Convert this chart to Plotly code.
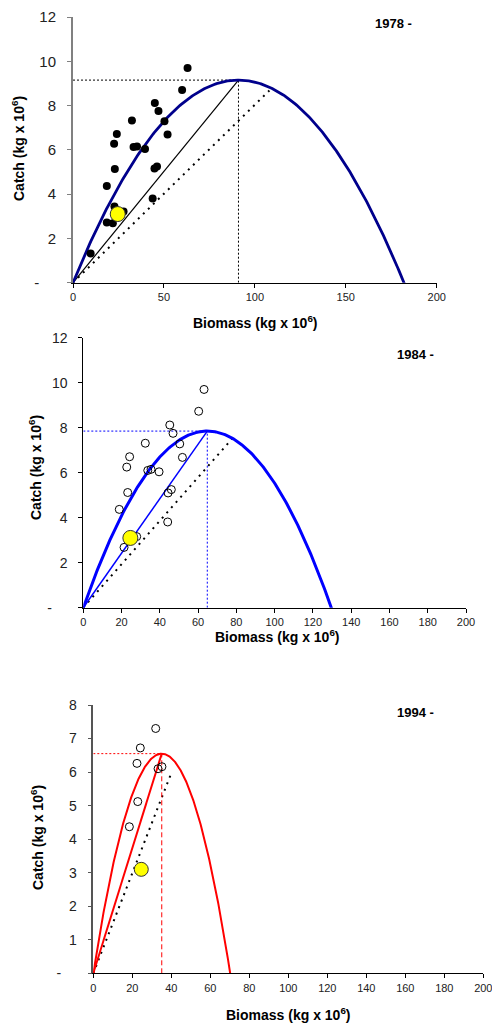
import numpy as np
import plotly.graph_objects as go

# ---------------- data ----------------
# Panel 1 (1978 -): catch vs biomass, filled points
b78 = [9.7, 18.6, 21.9, 22.8, 27.8, 43.8, 18.6, 23.0, 44.8, 46.2, 39.6, 33.3, 35.2,
       52.0, 22.6, 24.1, 50.3, 32.4, 47.0, 45.0, 60.0, 63.0]
c78 = [1.32, 2.72, 2.68, 3.44, 3.22, 3.80, 4.37, 5.13, 5.16, 5.25, 6.04, 6.13, 6.15,
       6.69, 6.27, 6.72, 7.29, 7.32, 7.76, 8.12, 8.70, 9.70]
# Panel 2 (1984 -): open points
b84 = [21.3, 27.9, 44.1, 18.8, 23.2, 44.3, 46.0, 39.6, 33.7, 35.4, 51.8, 22.7, 24.2,
       50.4, 32.4, 46.9, 45.2, 60.3, 63.1]
c84 = [2.68, 3.16, 3.81, 4.37, 5.12, 5.10, 5.25, 6.04, 6.10, 6.15, 6.68, 6.25, 6.71,
       7.28, 7.31, 7.75, 8.12, 8.73, 9.70]
# Panel 3 (1994 -): open points
b94 = [18.5, 22.8, 22.4, 33.2, 35.2, 24.1, 32.0]
c94 = [4.37, 5.12, 6.26, 6.10, 6.16, 6.72, 7.30]
# current point (yellow)
b_now = [24.6]
c_now = [3.1]

# surplus-production model parameters per panel
years = ["1978 -", "1984 -", "1994 -"]
K_vals = [182.0, 129.6, 70.2]      # carrying capacity (biomass at zero catch)
msy_vals = [9.15, 7.85, 6.55]      # maximum sustainable yield
bmsy_vals = [91.0, 64.8, 35.1]     # biomass at MSY
ref_end_b = [108.0, 79.0, 39.8]    # end of dotted reference line
ref_end_c = [8.68, 7.63, 5.94]

x_ticks = [[0, 50, 100, 150, 200],
           list(range(0, 201, 20)),
           list(range(0, 201, 20))]
y_ticks = [[0, 2, 4, 6, 8, 10, 12],
           [0, 2, 4, 6, 8, 10, 12],
           [0, 1, 2, 3, 4, 5, 6, 7, 8]]
y_ranges = [[0, 12], [0, 12], [0, 8]]

curve_cols = ["#00008C", "#0000FF", "#FF0000"]
ref_cols = ["#000000", "#0000FF", "#FF0000"]

W, H = 492, 1025
FONT = "Liberation Sans, Arial, sans-serif"

fig = go.Figure()

# panel pixel geometry (left, right, top, bottom)
geom = [(73, 436.7, 17, 282.7),
        (83.3, 466, 337.7, 607.7),
        (93.3, 483.3, 705, 973.3)]

def parab(K, msy, n=300):
    bb = np.linspace(0, K * 1.005, n)
    cc = 4 * msy * bb / K * (1 - bb / K)
    return bb, cc

for i in range(3):
    xa = "x" if i == 0 else f"x{i+1}"
    ya = "y" if i == 0 else f"y{i+1}"
    K, msy, bm = K_vals[i], msy_vals[i], bmsy_vals[i]
    bb, cc = parab(K, msy)
    # dotted reference line
    fig.add_trace(go.Scatter(x=[0, ref_end_b[i]], y=[0, ref_end_c[i]], mode="lines",
                             line=dict(color="black", width=2, dash="2px,5px"),
                             xaxis=xa, yaxis=ya, showlegend=False))
    # drop lines to MSY
    fig.add_trace(go.Scatter(x=[0, bm], y=[msy, msy], mode="lines",
                             line=dict(color=ref_cols[i], width=1, dash="2px,2px"),
                             xaxis=xa, yaxis=ya, showlegend=False))
    fig.add_trace(go.Scatter(x=[bm, bm], y=[0, msy], mode="lines",
                             line=dict(color=ref_cols[i], width=1,
                                       dash="5px,3px" if i == 2 else "2px,2px"),
                             xaxis=xa, yaxis=ya, showlegend=False))
    # line to MSY point
    fig.add_trace(go.Scatter(x=[0, bm], y=[0, msy], mode="lines",
                             line=dict(color=["black", "#0000FF", "#FF0000"][i],
                                       width=[1.2, 1.5, 2][i]),
                             xaxis=xa, yaxis=ya, showlegend=False))
    # production curve
    fig.add_trace(go.Scatter(x=bb, y=cc, mode="lines",
                             line=dict(color=curve_cols[i], width=[2.8, 3, 2][i]),
                             xaxis=xa, yaxis=ya, showlegend=False))

# points
fig.add_trace(go.Scatter(x=b78, y=c78, mode="markers",
                         marker=dict(color="black", size=8),
                         xaxis="x", yaxis="y", showlegend=False))
fig.add_trace(go.Scatter(x=b84, y=c84, mode="markers",
                         marker=dict(symbol="circle-open", color="black", size=8,
                                     line=dict(width=1)),
                         xaxis="x2", yaxis="y2", showlegend=False))
fig.add_trace(go.Scatter(x=b94, y=c94, mode="markers",
                         marker=dict(symbol="circle-open", color="black", size=8,
                                     line=dict(width=1)),
                         xaxis="x3", yaxis="y3", showlegend=False))
for i in range(3):
    xa = "x" if i == 0 else f"x{i+1}"
    ya = "y" if i == 0 else f"y{i+1}"
    fig.add_trace(go.Scatter(x=b_now, y=c_now, mode="markers",
                             marker=dict(color="#FFFF00", size=[15, 15, 14][i],
                                         line=dict(color="#333333", width=1)),
                             xaxis=xa, yaxis=ya, showlegend=False))

layout = dict(width=W, height=H, margin=dict(l=0, r=0, t=0, b=0, autoexpand=False),
              paper_bgcolor="white", plot_bgcolor="white",
              font=dict(family=FONT, color="black"))
NB = "\u00a0"
yaxis_cols = ["#808080", "#000000", "#555555"]
for i in range(3):
    l, r, t, b = geom[i]
    sx = "" if i == 0 else str(i + 1)
    yt = y_ticks[i]
    ytext = [("-" + NB * 4) if v == 0 else str(v) for v in yt]
    layout["xaxis" + sx] = dict(
        domain=[l / W, r / W], range=[0, 200], anchor="y" + sx, automargin=False,
        tickvals=x_ticks[i], ticktext=[str(v) for v in x_ticks[i]],
        ticks="outside", ticklen=4, tickcolor="black", showline=True,
        linecolor="black", linewidth=1, showgrid=False, zeroline=False,
        ticklabeloverflow="allow",
        tickfont=dict(size=11, color="#222222"), fixedrange=True)
    layout["yaxis" + sx] = dict(
        domain=[1 - b / H, 1 - t / H], range=y_ranges[i], anchor="x" + sx,
        automargin=False,
        tickvals=yt, ticktext=ytext, ticks="outside", ticklen=4,
        tickcolor=yaxis_cols[i], showline=True, linecolor=yaxis_cols[i],
        linewidth=[2, 1, 1.5][i], showgrid=False, zeroline=False,
        ticklabelstandoff=8, ticklabeloverflow="allow",
        tickfont=dict(size=[15, 14, 14][i], color="#222222"), fixedrange=True)
fig.update_layout(**layout)

# text annotations
xt_pos = [(255, 322), (277, 636), (288, 1014)]
yt_pos = [(18, 149), (35, 468), (37, 838)]
yr_pos = [(393, 23), (415, 354), (415, 712)]
for i in range(3):
    fig.add_annotation(x=xt_pos[i][0] / W, y=1 - xt_pos[i][1] / H, xref="paper", yref="paper",
                       text="<b>Biomass (kg x 10<sup>6</sup>)</b>", showarrow=False,
                       font=dict(size=14), xanchor="center", yanchor="middle")
    fig.add_annotation(x=yt_pos[i][0] / W, y=1 - yt_pos[i][1] / H, xref="paper", yref="paper",
                       text="<b>Catch (kg x 10<sup>6</sup>)</b>", showarrow=False, textangle=-90,
                       font=dict(size=14), xanchor="center", yanchor="middle")
    fig.add_annotation(x=yr_pos[i][0] / W, y=1 - yr_pos[i][1] / H, xref="paper", yref="paper",
                       text="<b>" + years[i] + "</b>", showarrow=False,
                       font=dict(size=13), xanchor="center", yanchor="middle")

fig.write_html("out.html", config={"displayModeBar": False},
               post_script="document.body.style.margin='0';document.body.style.overflow='hidden';")
